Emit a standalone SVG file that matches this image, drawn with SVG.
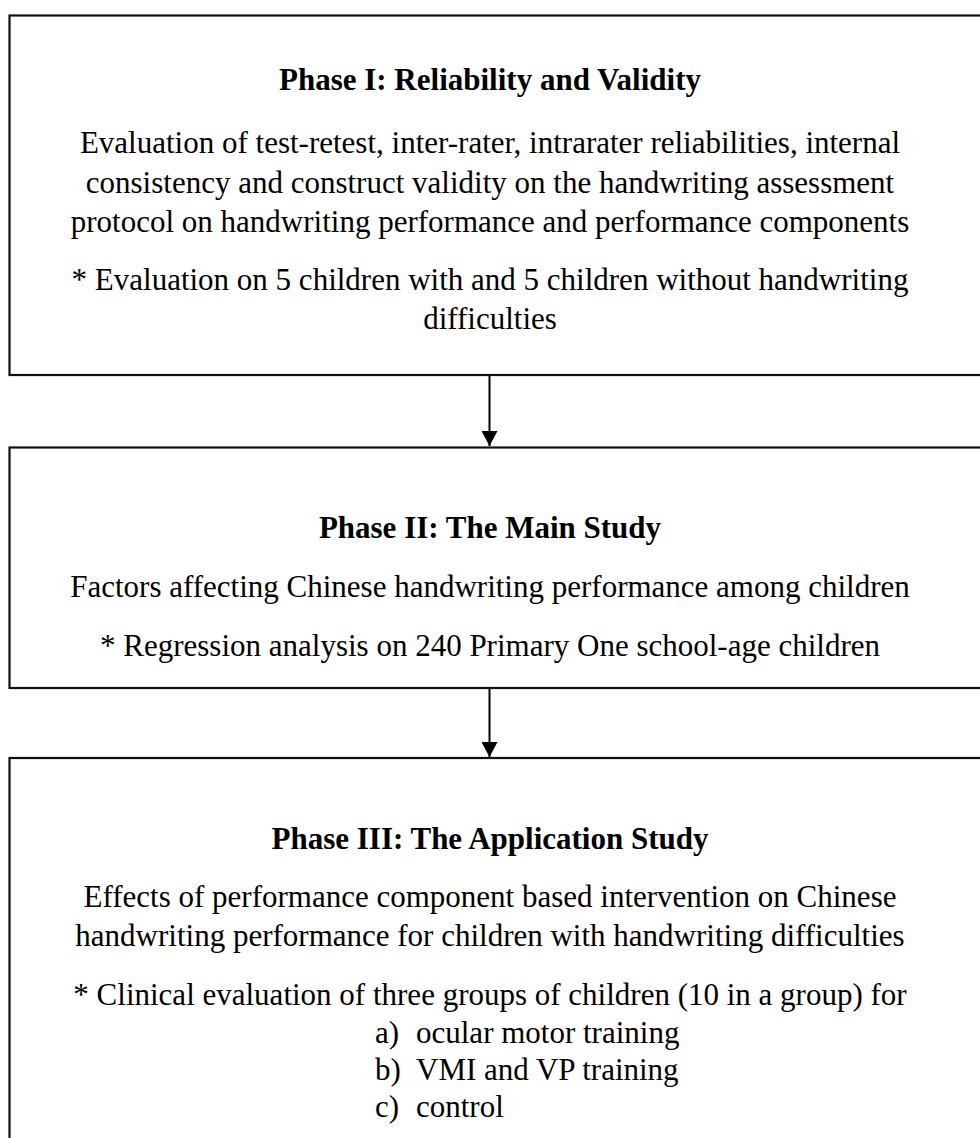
<svg xmlns="http://www.w3.org/2000/svg" width="980" height="1138" viewBox="0 0 980 1138">
  <style>
    .box { fill: #ffffff; stroke: #111111; stroke-width: 2.2; }
    .t { font-family: "Liberation Serif", "Times New Roman", serif; font-size: 31px; fill: #000000; }
    .c { text-anchor: middle; }
    .h { font-weight: bold; }
    .wire { stroke: #000000; stroke-width: 2; fill: none; }
  </style>
  <defs>
    <marker id="head" markerWidth="16" markerHeight="16" refX="15" refY="8" orient="auto" markerUnits="userSpaceOnUse">
      <path d="M0,0 L15,8 L0,16 Z" fill="#000000"/>
    </marker>
  </defs>
  <rect width="980" height="1138" fill="#ffffff"/>

  <g id="phase1">
    <rect class="box" x="9.5" y="15.5" width="990" height="359.5"/>
    <text class="t c h" x="490" y="90">Phase I: Reliability and Validity</text>
    <text class="t c" x="490" y="153">Evaluation of test-retest, inter-rater, intrarater reliabilities, internal</text>
    <text class="t c" x="490" y="193">consistency and construct validity on the handwriting assessment</text>
    <text class="t c" x="490" y="232">protocol on handwriting performance and performance components</text>
    <text class="t c" x="490" y="290">* Evaluation on 5 children with and 5 children without handwriting</text>
    <text class="t c" x="490" y="329">difficulties</text>
  </g>

  <g id="phase2">
    <rect class="box" x="9.5" y="447.5" width="990" height="240.5"/>
    <text class="t c h" x="490" y="538">Phase II: The Main Study</text>
    <text class="t c" x="490" y="597">Factors affecting Chinese handwriting performance among children</text>
    <text class="t c" x="490" y="656">* Regression analysis on 240 Primary One school-age children</text>
  </g>

  <g id="phase3">
    <rect class="box" x="9.5" y="758" width="990" height="400"/>
    <text class="t c h" x="490" y="849">Phase III: The Application Study</text>
    <text class="t c" x="490" y="907">Effects of performance component based intervention on Chinese</text>
    <text class="t c" x="490" y="946">handwriting performance for children with handwriting difficulties</text>
    <text class="t c" x="490" y="1005">* Clinical evaluation of three groups of children (10 in a group) for</text>
    <text class="t" x="375" y="1043">a)</text>
    <text class="t" x="416" y="1043">ocular motor training</text>
    <text class="t" x="375" y="1080">b)</text>
    <text class="t" x="416" y="1080">VMI and VP training</text>
    <text class="t" x="375" y="1117">c)</text>
    <text class="t" x="416" y="1117">control</text>
  </g>

  <g id="connectors">
    <line class="wire" x1="489.5" y1="376" x2="489.5" y2="446" marker-end="url(#head)"/>
    <line class="wire" x1="489.5" y1="689" x2="489.5" y2="757" marker-end="url(#head)"/>
  </g>
</svg>
